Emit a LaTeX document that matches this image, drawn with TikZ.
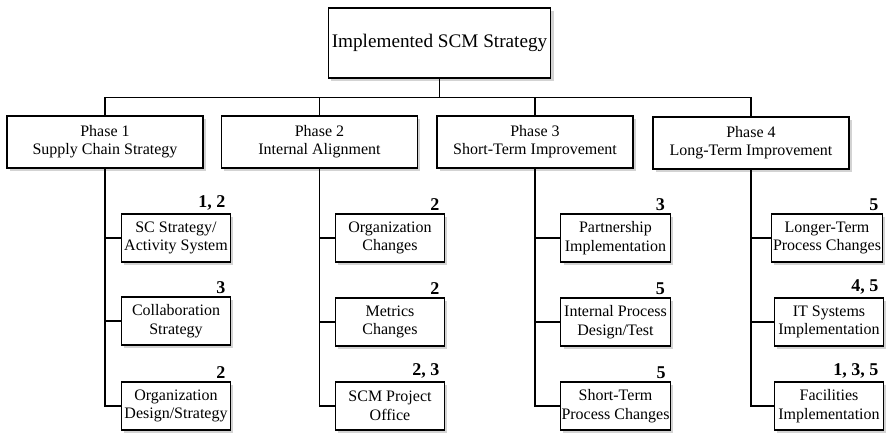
\documentclass[tikz,border=0pt]{standalone}
\usepackage{fontspec}
\setmainfont{Liberation Serif}
\usetikzlibrary{shadows}

\begin{document}
\begin{tikzpicture}[x=0.75pt, y=-0.75pt, line width=0.8pt,
		box/.style={draw, fill=white, line width=0.9pt, align=center, inner sep=1pt,
			drop shadow={shadow xshift=2pt, shadow yshift=-2pt, opacity=0.35}},
		phase/.style={box, minimum width=147pt, minimum height=39pt, font=\fontsize{12}{13.5}\selectfont},
		task/.style={box, minimum width=82pt, minimum height=36pt, font=\fontsize{12}{14}\selectfont},
		num/.style={anchor=south east, inner sep=0pt, font=\fontsize{13.5}{15}\selectfont\bfseries}]
		\useasboundingbox (0,0) rectangle (890,433);
		\node[box, minimum width=167pt, minimum height=52.5pt, font=\fontsize{14.4}{16}\selectfont] (top) at (439.5,43) {Implemented SCM Strategy};
		\node[phase] (p1) at (105,142) {Phase 1\\Supply Chain Strategy};
		\node[phase] (p2) at (319.5,142) {Phase 2\\Internal Alignment};
		\node[phase] (p3) at (535,142) {Phase 3\\Short-Term Improvement};
		\node[phase] (p4) at (751,143) {Phase 4\\Long-Term Improvement};
		\foreach \i in {1,...,4}
			\draw (top.south) -- ++(0,19) -| (p\i.north);
		\node[task] (c11) at (176,238) {SC Strategy/\\Activity System};
		\node[task] (c12) at (176,321) {Collaboration\\Strategy};
		\node[task] (c13) at (176,406) {Organization\\Design/Strategy};
		\node[task] (c21) at (390,238) {Organization\\Changes};
		\node[task] (c22) at (390,322) {Metrics\\Changes};
		\node[task] (c23) at (390,406) {SCM Project\\Office};
		\node[task] (c31) at (615.5,238) {Partnership\\Implementation};
		\node[task] (c32) at (615.5,322) {Internal Process\\Design/Test};
		\node[task] (c33) at (615.5,406) {Short-Term\\Process Changes};
		\node[task] (c41) at (827,238) {Longer-Term\\Process Changes};
		\node[task] (c42) at (829,322) {IT Systems\\Implementation};
		\node[task] (c43) at (829,406) {Facilities\\Implementation};
		\foreach \i in {1,...,4}
			\foreach \j in {1,2,3}
				\draw (p\i.south) |- (c\i\j.west);
		\node[num] (n11) at ([xshift=-4pt, yshift=2pt]c11.north east) {1, 2};
		\node[num] (n12) at ([xshift=-4pt, yshift=2pt]c12.north east) {3};
		\node[num] (n13) at ([xshift=-4pt, yshift=2pt]c13.north east) {2};
		\node[num] (n21) at ([xshift=-4pt, yshift=2pt]c21.north east) {2};
		\node[num] (n22) at ([xshift=-4pt, yshift=2pt]c22.north east) {2};
		\node[num] (n23) at ([xshift=-4pt, yshift=2pt]c23.north east) {2, 3};
		\node[num] (n31) at ([xshift=-4pt, yshift=2pt]c31.north east) {3};
		\node[num] (n32) at ([xshift=-4pt, yshift=2pt]c32.north east) {5};
		\node[num] (n33) at ([xshift=-4pt, yshift=2pt]c33.north east) {5};
		\node[num] (n41) at ([xshift=-4pt, yshift=2pt]c42.north east |- c41.north) {5};
		\node[num] (n42) at ([xshift=-4pt, yshift=2pt]c42.north east) {4, 5};
		\node[num] (n43) at ([xshift=-4pt, yshift=2pt]c43.north east) {1, 3, 5};
	\end{tikzpicture}
\end{document}
